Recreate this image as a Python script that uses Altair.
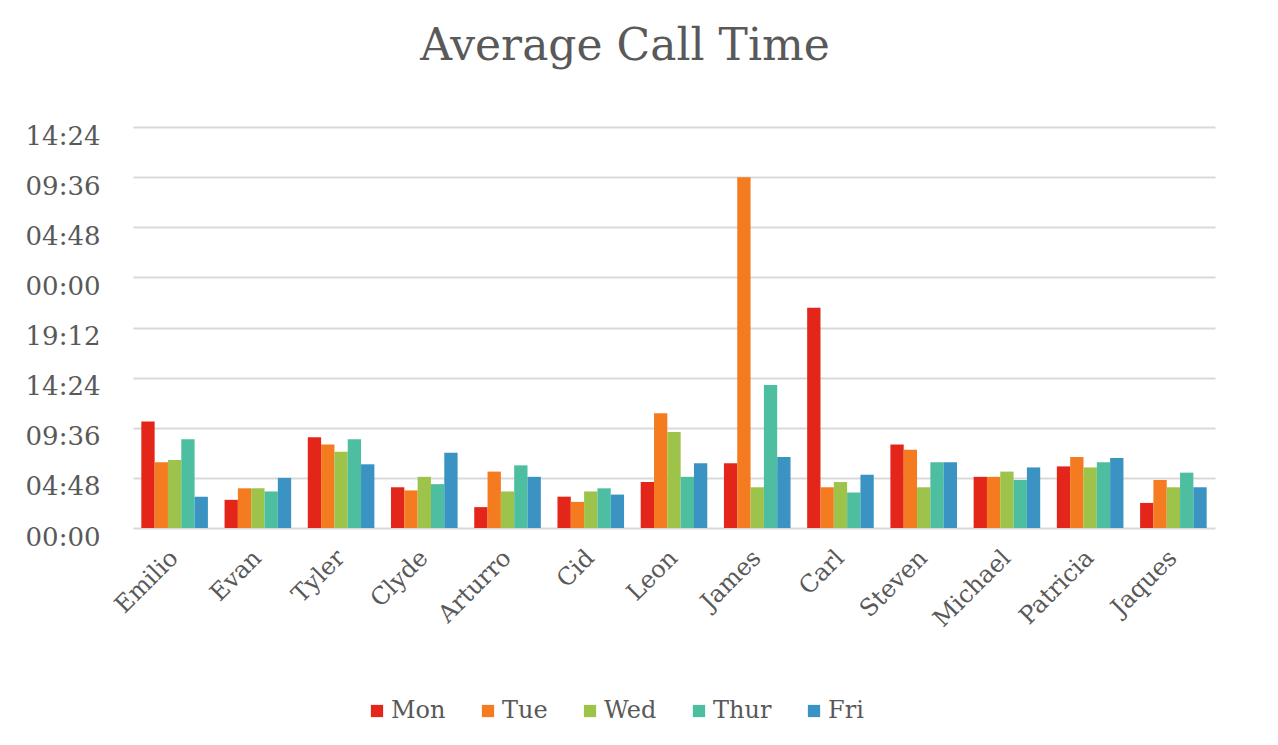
import altair as alt
import pandas as pd

names = ["Emilio", "Evan", "Tyler", "Clyde", "Arturro", "Cid", "Leon",
         "James", "Carl", "Steven", "Michael", "Patricia", "Jaques"]
days = ["Mon", "Tue", "Wed", "Thur", "Fri"]
colors = ["#E4261A", "#F47B20", "#9DC34A", "#4DBFA0", "#3A93C3"]

# average call time in hours
mon = [10.2, 2.7, 8.7, 3.9, 2.0, 3.0, 4.4, 6.2, 21.1, 8.0, 4.9, 5.9, 2.4]
tue = [6.3, 3.8, 8.0, 3.6, 5.4, 2.5, 11.0, 33.6, 3.9, 7.5, 4.9, 6.8, 4.6]
wed = [6.5, 3.8, 7.3, 4.9, 3.5, 3.5, 9.2, 3.9, 4.4, 3.9, 5.4, 5.8, 3.9]
thu = [8.5, 3.5, 8.5, 4.2, 6.0, 3.8, 4.9, 13.7, 3.4, 6.3, 4.6, 6.3, 5.3]
fri = [3.0, 4.8, 6.1, 7.2, 4.9, 3.2, 6.2, 6.8, 5.1, 6.3, 5.8, 6.7, 3.9]

y_ticks = [0, 4.8, 9.6, 14.4, 19.2, 24.0, 28.8, 33.6, 38.4]

series = {"Mon": mon, "Tue": tue, "Wed": wed, "Thur": thu, "Fri": fri}
rows = []
for d in days:
    for n, v in zip(names, series[d]):
        rows.append({"name": n, "day": d, "hours": v})
df = pd.DataFrame(rows)

FONT = "DejaVu Serif"
GRAY = "#595959"

m = "round(datum.value*60)"
label_expr = (
    f"(floor(({m}%1440)/60) < 10 ? '0' : '') + floor(({m}%1440)/60) + ':' + "
    f"(({m}%60) < 10 ? '0' : '') + ({m}%60)"
)

chart = alt.Chart(df).mark_bar().encode(
    x=alt.X("name:N", sort=names, title=None,
            scale=alt.Scale(paddingInner=0.2, paddingOuter=0.1),
            axis=alt.Axis(labelAngle=-45, labelAlign="right", labelBaseline="middle",
                          labelPadding=26, domain=False, ticks=False,
                          labelFont=FONT, labelFontSize=24, labelColor=GRAY)),
    xOffset=alt.XOffset("day:N", sort=days),
    y=alt.Y("hours:Q", title=None,
            scale=alt.Scale(domain=[0, 38.4], nice=False),
            axis=alt.Axis(values=y_ticks, labelExpr=label_expr, domain=False, ticks=False,
                          gridColor="#D9D9D9", gridWidth=2, labelPadding=33,
                          labelOffset=9,
                          labelFont=FONT, labelFontSize=26, labelColor=GRAY)),
    color=alt.Color("day:N", sort=days, scale=alt.Scale(domain=days, range=colors),
                    legend=alt.Legend(title=None, orient="none", direction="horizontal",
                                      legendX=232, legendY=572,
                                      symbolType="square", symbolSize=150,
                                      symbolStrokeWidth=0,
                                      labelFont=FONT, labelFontSize=24, labelColor=GRAY,
                                      columnPadding=30, labelOffset=2)),
).properties(
    width=1082,
    height=401,
    title=alt.TitleParams("Average Call Time", font=FONT, fontSize=44, fontWeight="normal",
                          color=GRAY, anchor="middle", frame="group", offset=19,
                          baseline="alphabetic", dx=-49),
    autosize=alt.AutoSizeParams(type="none"),
    padding={"left": 125, "top": 119, "right": 55, "bottom": 209},
).configure_view(stroke=None)

chart.save("out.html", embed_options={"renderer": "svg", "actions": False})
